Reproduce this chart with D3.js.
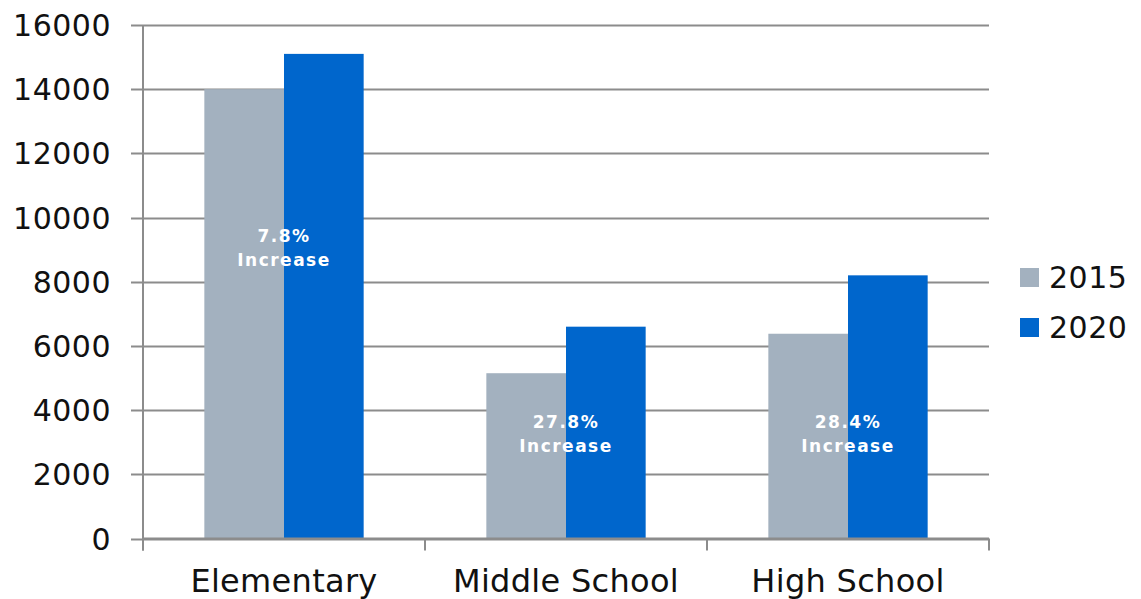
<!DOCTYPE html>
<html>
<head>
<meta charset="utf-8">
<script src="https://cdn.jsdelivr.net/npm/d3@7"></script>
<style>
  body { margin: 0; background: #fff; }
  text { font-family: "DejaVu Sans", Verdana, sans-serif; }
</style>
</head>
<body>
<svg id="chart" width="1141" height="599"></svg>
<script>
// data
const categories = ["Elementary", "Middle School", "High School"];
const seriesNames = ["2015", "2020"];
const values2015 = [14000, 5150, 6380];
const values2020 = [15100, 6600, 8200];
const increaseLabels = ["7.8%", "27.8%", "28.4%"];
const labelAnchors = [9250, 3450, 3450];
const yTicks = [0, 2000, 4000, 6000, 8000, 10000, 12000, 14000, 16000];

const colors = ["#a3b1bf", "#0066cc"];
const gridColor = "#8c8c8c";

const svg = d3.select("#chart");
const margin = {top: 25, right: 152, bottom: 60, left: 143};
const width = 1141 - margin.left - margin.right;
const height = 599 - margin.top - margin.bottom - 0.5;

const g = svg.append("g").attr("transform", `translate(${margin.left},${margin.top})`);

const x = d3.scaleBand().domain(categories).range([0, width]).padding(0);
const xInner = d3.scaleBand().domain(seriesNames).range([0, x.bandwidth()])
  .paddingInner(0).paddingOuter(0.77);
const y = d3.scaleLinear().domain([0, 16000]).range([height, 0]);

// gridlines
g.append("g")
  .selectAll("line")
  .data(yTicks)
  .join("line")
  .attr("x1", -12)
  .attr("x2", width)
  .attr("y1", d => Math.round(y(d)) + 0.5)
  .attr("y2", d => Math.round(y(d)) + 0.5)
  .attr("stroke", gridColor)
  .attr("stroke-width", 2);

// y axis labels
g.append("g")
  .selectAll("text")
  .data(yTicks)
  .join("text")
  .attr("x", -32)
  .attr("y", d => y(d) + 11)
  .attr("text-anchor", "end")
  .attr("font-size", 30)
  .attr("letter-spacing", 0.5)
  .attr("fill", "#111")
  .text(d => d);

// bars
const rows = categories.map((c, i) => ({cat: c, vals: [values2015[i], values2020[i]]}));
const groups = g.append("g")
  .selectAll("g")
  .data(rows)
  .join("g")
  .attr("transform", d => `translate(${x(d.cat)},0)`);

groups.selectAll("rect")
  .data(d => d.vals.map((v, j) => ({series: seriesNames[j], value: v, j: j})))
  .join("rect")
  .attr("x", d => xInner(d.series))
  .attr("width", xInner.bandwidth())
  .attr("y", d => y(d.value))
  .attr("height", d => height - y(d.value))
  .attr("fill", d => colors[d.j]);

// y axis line
g.append("line")
  .attr("x1", 0).attr("x2", 0)
  .attr("y1", 0).attr("y2", height + 12)
  .attr("stroke", gridColor).attr("stroke-width", 2);

// x axis line + ticks
g.append("line")
  .attr("x1", 0).attr("x2", width)
  .attr("y1", height).attr("y2", height)
  .attr("stroke", gridColor).attr("stroke-width", 2);
g.append("g")
  .selectAll("line")
  .data(categories.map(c => x(c)).concat([width]))
  .join("line")
  .attr("x1", d => d).attr("x2", d => d)
  .attr("y1", height).attr("y2", height + 12)
  .attr("stroke", gridColor).attr("stroke-width", 2);

// category labels
g.append("g")
  .selectAll("text")
  .data(categories)
  .join("text")
  .attr("x", d => x(d) + x.bandwidth() / 2)
  .attr("y", height + 53)
  .attr("text-anchor", "middle")
  .attr("font-size", 32)
  .attr("letter-spacing", 0.3)
  .attr("fill", "#111")
  .text(d => d);

// increase annotations
const ann = g.append("g")
  .selectAll("text")
  .data(categories)
  .join("text")
  .attr("x", d => x(d) + xInner("2020"))
  .attr("y", (d, i) => y(labelAnchors[i]))
  .attr("text-anchor", "middle")
  .attr("font-size", 17)
  .attr("font-weight", "bold")
  .attr("letter-spacing", 1.5)
  .attr("fill", "#fff");
ann.append("tspan")
  .attr("x", d => x(d) + xInner("2020"))
  .text((d, i) => increaseLabels[i]);
ann.append("tspan")
  .attr("x", d => x(d) + xInner("2020"))
  .attr("dy", 24)
  .text("Increase");

// legend
const legend = svg.append("g").attr("transform", "translate(1020,268)");
const li = legend.selectAll("g")
  .data(seriesNames)
  .join("g")
  .attr("transform", (d, i) => `translate(0,${i * 50})`);
li.append("rect")
  .attr("width", 19).attr("height", 19)
  .attr("fill", (d, i) => colors[i]);
li.append("text")
  .attr("x", 29)
  .attr("y", 20)
  .attr("font-size", 30)
  .attr("letter-spacing", 0.5)
  .attr("fill", "#111")
  .text(d => d);
</script>
</body>
</html>
